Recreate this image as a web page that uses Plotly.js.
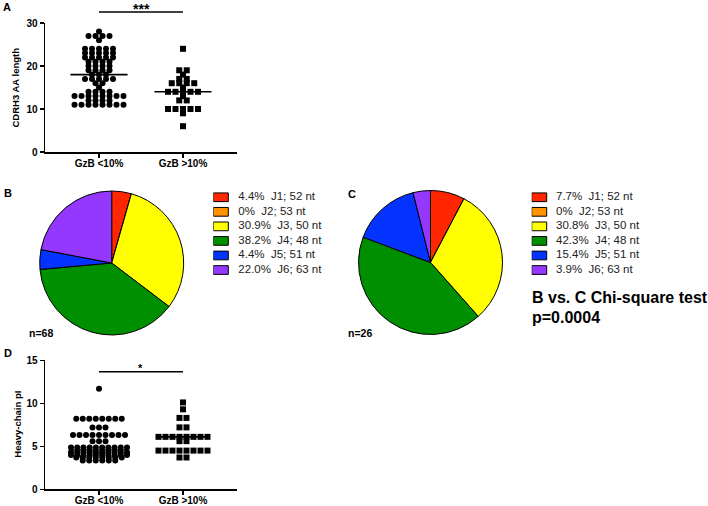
<!DOCTYPE html>
<html><head><meta charset="utf-8">
<script src="https://cdn.plot.ly/plotly-3.0.1.min.js"></script>
<style>html,body{margin:0;padding:0;background:#fff}</style>
</head><body><div id="chart" style="width:708px;height:506px"></div>
<script>
// ---------------- data ----------------
const categories = ["GzB <10%", "GzB >10%"];
const cdrh3Low = [28,
  27,27,27,27,
  26,
  24,24,24,24,24,
  23,23,23,23,23,
  22,22,22,22,22,
  21,21,21,21,
  20,20,20,20,
  19,19,19,19,
  18,18,18,
  17,17,17,17,17,
  16,16,
  15,
  14,14,14,14,
  13,13,13,13,13,13,13,13,
  12,12,12,12,
  11,11,11,11,11,11,11,11];
const cdrh3High = [24, 19,19, 18, 17,17, 16,16,16,16, 15, 14,14,14,14,14, 13, 12,12, 10,10,10,10,10, 9, 6];
const piLow = [11.7,
  8.2,8.2,8.2,8.2,8.2,8.2,8.2,8.2,
  7.2,7.2,7.2,
  6.3,6.3,6.3,6.3,6.3,6.3,6.3,6.3,6.3,
  5.6,5.6,5.6,
  4.85,4.85,4.85,4.85,4.85,4.85,4.85,4.85,4.85,4.85,
  4.3,4.3,4.3,4.3,4.3,4.3,4.3,4.3,4.3,4.3,
  4.0,4.0,4.0,4.0,4.0,4.0,4.0,4.0,4.0,4.0,
  3.7,3.7,3.7,3.7,3.7,3.7,3.7,3.7,
  3.35,3.35,3.35,3.35,3.35,3.35];
const piHigh = [10.1, 9.3, 8.3,8.3, 7.2,7.2, 6.1,6.1,6.1,6.1,6.1,6.1,6.1,6.1, 5.6,5.6,
  4.5,4.5,4.5,4.5,4.5,4.5,4.5,4.5, 3.7,3.7];
const yTicksA = [0, 10, 20, 30];
const yTicksD = [0, 5, 10, 15];

const jLabels = ["J1; 52 nt", "J2; 53 nt", "J3, 50 nt", "J4; 48 nt", "J5; 51 nt", "J6; 63 nt"];
const jColors = ["#ff2600", "#ff9300", "#ffff00", "#008f00", "#0433ff", "#9437ff"];
const pctB = [4.4, 0, 30.9, 38.2, 4.4, 22.0];
const pctBText = ["4.4%", "0%", "30.9%", "38.2%", "4.4%", "22.0%"];
const pctC = [7.7, 0, 30.8, 42.3, 15.4, 3.9];
const pctCText = ["7.7%", "0%", "30.8%", "42.3%", "15.4%", "3.9%"];
const nLabelB = "n=68", nLabelC = "n=26";

// ---------------- layout helpers ----------------
const W = 708, H = 506;
const F = "Arial, 'Liberation Sans', sans-serif";
const fx = p => p / W, fy = p => 1 - p / H;
const axL = 45, axR = 237;
const xRange = [-0.643, 1.643];
const pxPerCat = (axR - axL) / (xRange[1] - xRange[0]);

function rowX(vals, center, sp, maxW) {
  const groups = new Map();
  vals.forEach((v, i) => { if (!groups.has(v)) groups.set(v, []); groups.get(v).push(i); });
  const xs = new Array(vals.length);
  groups.forEach(idx => {
    const n = idx.length;
    const s = n > 1 ? Math.min(sp, maxW / (n - 1)) : 0;
    idx.forEach((k, j) => { xs[k] = center + (j - (n - 1) / 2) * s / pxPerCat; });
  });
  return xs;
}
function median(a) {
  const s = [...a].sort((p, q) => p - q), m = s.length / 2;
  return s.length % 2 ? s[Math.floor(m)] : (s[m - 1] + s[m]) / 2;
}
function medLine(lo, hi, xa, ya, hw) {
  const m1 = median(lo), m2 = median(hi);
  return {type: 'scatter', mode: 'lines', x: [-hw, hw, null, 1 - hw, 1 + hw], y: [m1, m1, null, m2, m2],
    line: {color: '#000', width: 1.6}, xaxis: xa, yaxis: ya, hoverinfo: 'skip', showlegend: false};
}
function dots(vals, center, sym, sp, maxW, xa, ya) {
  return {type: 'scatter', mode: 'markers', x: rowX(vals, center, sp, maxW), y: vals,
    marker: {symbol: sym, size: 6, color: '#000', line: {width: 0}},
    xaxis: xa, yaxis: ya, hoverinfo: 'skip', showlegend: false, cliponaxis: false};
}
function pie(vals, cx, cy, r) {
  return {type: 'pie', values: vals, labels: jLabels, sort: false, direction: 'clockwise', rotation: 0,
    marker: {colors: jColors, line: {color: '#000', width: 1}}, textinfo: 'none', hoverinfo: 'skip',
    showlegend: false, domain: {x: [fx(cx - r), fx(cx + r)], y: [fy(cy + r), fy(cy - r)]}};
}
function legendSwatch(xa, ya) {
  return {type: 'bar', orientation: 'h', y: jLabels.map((_, i) => i), x: jLabels.map(() => 1), base: 0,
    width: 0.6, marker: {color: jColors, line: {color: '#000', width: 1}},
    xaxis: xa, yaxis: ya, hoverinfo: 'skip', showlegend: false, textinfo: 'none'};
}
function legendText(pcts, xa, ya, tx) {
  return {type: 'scatter', mode: 'text', y: jLabels.map((_, i) => i), x: jLabels.map(() => tx),
    text: jLabels.map((l, i) => pcts[i] + '\u00a0\u00a0' + l), textposition: 'middle right',
    textfont: {family: F, size: 11.5, color: '#222'}, xaxis: xa, yaxis: ya, hoverinfo: 'skip',
    showlegend: false, cliponaxis: false};
}

const traces = [
  dots(cdrh3Low, 0, 'circle', 7, 56, 'x', 'y'),
  dots(cdrh3High, 1, 'square', 7.5, 56, 'x', 'y'),
  medLine(cdrh3Low, cdrh3High, 'x', 'y', 0.34),
  dots(piLow, 0, 'circle', 6.5, 56, 'x2', 'y2'),
  dots(piHigh, 1, 'square', 7, 50, 'x2', 'y2'),
  medLine(piLow, piHigh, 'x2', 'y2', 0.31),
  pie(pctB, 111.7, 263, 72),
  pie(pctC, 430.5, 262.5, 72),
  legendSwatch('x3', 'y3'),
  legendText(pctBText, 'x3', 'y3', 1.67),
  legendSwatch('x4', 'y4'),
  legendText(pctCText, 'x4', 'y4', 1.62)
];

const axisCommon = {showline: true, linecolor: '#000', linewidth: 1.5, ticks: 'outside', ticklen: 4,
  tickwidth: 1.5, tickcolor: '#000', showgrid: false, zeroline: false, fixedrange: true,
  tickfont: {family: F, size: 10, color: '#000', weight: 'bold'}};
const hidden = {visible: false, fixedrange: true, showgrid: false, zeroline: false};

function ann(text, x, y, opts) {
  return Object.assign({text, x: fx(x), y: fy(y), xref: 'paper', yref: 'paper', showarrow: false,
    xanchor: 'left', yanchor: 'middle', font: {family: F, size: 11, color: '#000', weight: 'bold'}}, opts || {});
}

const layout = {
  width: W, height: H, margin: {l: 0, r: 0, t: 0, b: 0}, paper_bgcolor: '#fff', plot_bgcolor: 'rgba(0,0,0,0)',
  showlegend: false,
  xaxis: Object.assign({}, axisCommon, {domain: [fx(axL), fx(axR)], range: xRange, tickvals: [0, 1], ticktext: categories, anchor: 'y', ticklabelstandoff: -3}),
  yaxis: Object.assign({}, axisCommon, {domain: [fy(152), fy(23)], range: [0, 30], tickvals: yTicksA, anchor: 'x'}),
  xaxis2: Object.assign({}, axisCommon, {domain: [fx(axL), fx(axR)], range: xRange, tickvals: [0, 1], ticktext: categories, anchor: 'y2', ticklabelstandoff: -3}),
  yaxis2: Object.assign({}, axisCommon, {domain: [fy(489.3), fy(360.3)], range: [0, 15], tickvals: yTicksD, anchor: 'x2'}),
  xaxis3: Object.assign({}, hidden, {domain: [fx(213.3), fx(213.3 + 150)], range: [0, 10], anchor: 'y3'}),
  yaxis3: Object.assign({}, hidden, {domain: [fy(277.3), fy(190)], range: [5.5, -0.5], anchor: 'x3'}),
  xaxis4: Object.assign({}, hidden, {domain: [fx(531.7), fx(531.7 + 150)], range: [0, 10], anchor: 'y4'}),
  yaxis4: Object.assign({}, hidden, {domain: [fy(277.3), fy(190)], range: [5.5, -0.5], anchor: 'x4'}),
  shapes: [
    {type: 'line', xref: 'x', yref: 'paper', x0: 0, x1: 1, y0: fy(12), y1: fy(12), line: {color: '#000', width: 1.6}},
    {type: 'line', xref: 'x2', yref: 'paper', x0: 0, x1: 1, y0: fy(371.7), y1: fy(371.7), line: {color: '#000', width: 1.6}}
  ],
  annotations: [
    ann('A', 1, 7),
    ann('B', 2, 193),
    ann('C', 346, 194),
    ann('D', 2, 353),
    ann('CDRH3 AA length', 15, 87.5, {textangle: -90, xanchor: 'center', font: {family: F, size: 9.5, color: '#000', weight: 'bold'}}),
    ann('Heavy-chain pI', 18, 424.7, {textangle: -90, xanchor: 'center', font: {family: F, size: 9.5, color: '#000', weight: 'bold'}}),
    ann('***', 141, 9, {xanchor: 'center', font: {family: F, size: 14, color: '#000', weight: 'bold'}}),
    ann('*', 140.5, 368, {xanchor: 'center', font: {family: F, size: 11, color: '#000', weight: 'bold'}}),
    ann(nLabelB, 27, 333, {font: {family: F, size: 10.5, color: '#000', weight: 'bold'}}),
    ann(nLabelC, 346, 333, {font: {family: F, size: 10.5, color: '#000', weight: 'bold'}}),
    ann('B vs. C Chi-square test', 530, 297.5, {font: {family: F, size: 16, color: '#000', weight: 'bold'}}),
    ann('p=0.0004', 530, 317, {font: {family: F, size: 16, color: '#000', weight: 'bold'}})
  ]
};

Plotly.newPlot('chart', traces, layout, {staticPlot: true, displayModeBar: false});
</script></body></html>
